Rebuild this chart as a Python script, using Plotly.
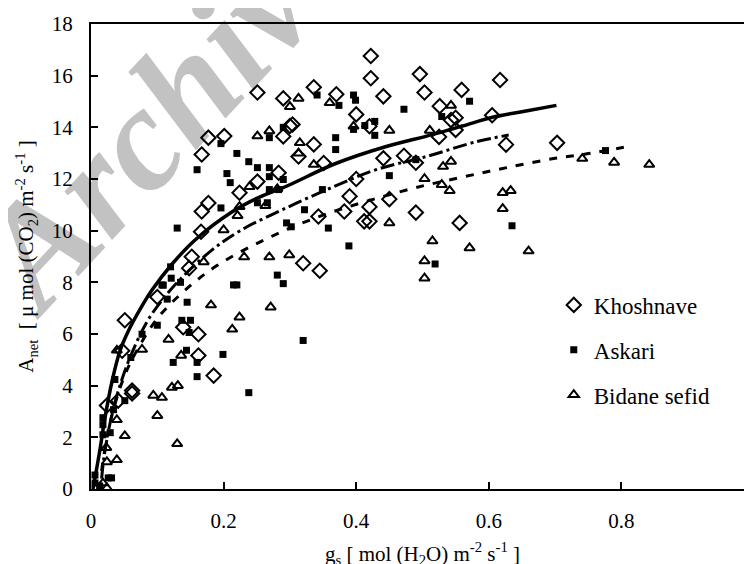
import plotly.graph_objects as go

# ---------------- data ----------------
kh_x = [0.422, 0.422, 0.251, 0.336, 0.29, 0.37, 0.304, 0.30, 0.40, 0.42, 0.29, 0.336, 0.313, 0.351,
        0.177, 0.201, 0.167, 0.283, 0.251, 0.224, 0.177, 0.167, 0.40, 0.39, 0.42, 0.382, 0.343, 0.412,
        0.42, 0.166, 0.152, 0.148, 0.32, 0.345, 0.051, 0.139, 0.162, 0.162, 0.185, 0.062, 0.062, 0.047,
        0.024, 0.041, 0.10, 0.496, 0.617, 0.441, 0.503, 0.559, 0.526, 0.55, 0.543, 0.605, 0.55, 0.525,
        0.626, 0.703, 0.441, 0.472, 0.49, 0.45, 0.49, 0.556]
kh_y = [16.76, 15.9, 15.35, 15.55, 15.12, 15.28, 14.11, 14.05, 14.5, 14.04, 13.65, 13.34, 12.87, 12.62,
        13.6, 13.66, 12.95, 12.24, 11.9, 11.47, 11.07, 10.74, 12.0, 11.33, 10.92, 10.74, 10.55, 10.36,
        10.36, 9.96, 8.99, 8.55, 8.74, 8.45, 6.53, 6.26, 5.99, 5.17, 4.39, 3.81, 3.70, 5.35,
        3.23, 3.42, 7.43, 16.06, 15.83, 15.2, 15.35, 15.45, 14.82, 14.37, 14.28, 14.47, 13.9, 13.63,
        13.33, 13.4, 12.8, 12.9, 12.63, 11.22, 10.7, 10.3]

as_x = [0.396, 0.399, 0.341, 0.374, 0.29, 0.269, 0.369, 0.369, 0.396, 0.413, 0.428, 0.428, 0.196,
        0.22, 0.238, 0.251, 0.269, 0.16, 0.205, 0.21, 0.269, 0.29, 0.269, 0.283, 0.251, 0.266, 0.196,
        0.349, 0.322, 0.13, 0.295, 0.302, 0.358, 0.389, 0.281, 0.121, 0.472, 0.571, 0.529, 0.49, 0.45,
        0.635, 0.519, 0.776, 0.109, 0.135, 0.215, 0.22, 0.29, 0.115, 0.145, 0.137, 0.15, 0.10, 0.148,
        0.144, 0.124, 0.16, 0.199, 0.16, 0.238, 0.32, 0.051, 0.036, 0.034, 0.018, 0.018, 0.029, 0.018,
        0.031, 0.026, 0.006, 0.006, 0.013, 0.077, 0.06, 0.12, 0.107]
as_y = [15.25, 15.05, 15.25, 14.85, 14.0, 13.6, 13.6, 13.14, 13.92, 14.07, 14.23, 13.69, 13.37,
        12.99, 12.67, 12.44, 12.44, 12.36, 12.21, 11.86, 12.09, 11.98, 11.59, 11.59, 11.08, 11.08, 10.88,
        11.59, 10.81, 10.1, 10.3, 10.15, 10.1, 9.41, 8.28, 8.16, 14.7, 15.01, 14.42, 12.75, 12.13,
        10.19, 8.71, 13.1, 7.89, 8.0, 7.9, 7.9, 7.95, 7.35, 7.23, 6.53, 6.53, 6.34, 6.06,
        5.37, 4.9, 4.9, 5.21, 4.35, 3.73, 5.75, 3.42, 4.24, 3.07, 2.76, 2.49, 2.18, 2.1,
        0.43, 0.43, 0.54, 0.23, 0.12, 5.99, 5.09, 8.6, 7.9]

bi_x = [0.313, 0.30, 0.36, 0.251, 0.269, 0.315, 0.313, 0.336, 0.239, 0.281, 0.263, 0.224, 0.221,
        0.20, 0.17, 0.231, 0.269, 0.299, 0.396, 0.45, 0.511, 0.543, 0.543, 0.531, 0.503, 0.529, 0.541,
        0.621, 0.633, 0.621, 0.45, 0.515, 0.571, 0.66, 0.503, 0.503, 0.741, 0.789, 0.842, 0.181,
        0.271, 0.224, 0.213, 0.117, 0.077, 0.039, 0.136, 0.094, 0.107, 0.122, 0.131, 0.10, 0.051,
        0.039, 0.13, 0.039, 0.024, 0.023, 0.018, 0.024]
bi_y = [15.12, 14.8, 14.95, 13.66, 13.86, 13.4, 13.0, 12.56, 11.7, 11.62, 10.96, 10.93, 10.58,
        10.03, 8.79, 8.98, 8.98, 9.06, 14.04, 13.88, 13.88, 14.85, 12.68, 12.48, 12.01, 11.78, 11.55,
        11.47, 11.55, 10.85, 10.3, 9.6, 9.33, 9.21, 8.83, 8.16, 12.79, 12.64, 12.56, 7.12,
        7.04, 6.65, 6.18, 5.79, 5.4, 5.37, 5.17, 3.62, 3.54, 3.93, 4.0, 2.84, 2.06,
        2.68, 1.75, 1.13, 1.05, 1.6, 0.23, 0.04]

# fitted curves
kh_fit_x = [0.003, 0.014, 0.02, 0.032, 0.044, 0.056, 0.075, 0.092, 0.122, 0.157, 0.213, 0.25,
            0.293, 0.369, 0.444, 0.515, 0.56, 0.607, 0.65, 0.702]
kh_fit_y = [0.0, 1.6, 2.6, 4.2, 5.37, 6.1, 7.0, 7.7, 8.7, 9.64, 10.73, 11.25,
            11.7, 12.6, 13.25, 13.72, 14.05, 14.4, 14.6, 14.85]
as_fit_x = [0.016, 0.02, 0.03, 0.04, 0.059, 0.085, 0.11, 0.134, 0.18, 0.225, 0.296, 0.366,
            0.43, 0.506, 0.582, 0.63]
as_fit_y = [0.4, 1.3, 2.7, 3.7, 5.1, 6.5, 7.4, 8.1, 9.2, 10.0, 10.9, 11.7,
            12.36, 12.87, 13.45, 13.7]
bi_fit_x = [0.016, 0.02, 0.03, 0.05, 0.07, 0.10, 0.14, 0.19, 0.266, 0.35, 0.48, 0.556,
            0.627, 0.70, 0.743, 0.813]
bi_fit_y = [0.7, 1.4, 2.7, 4.35, 5.4, 6.6, 7.65, 8.65, 9.7, 10.6, 11.6, 12.05,
            12.44, 12.8, 12.95, 13.27]

x_ticks = [0, 0.2, 0.4, 0.6, 0.8, 1]
x_tick_text = ["0", "0.2", "0.4", "0.6", "0.8", "1"]
y_ticks = [0, 2, 4, 6, 8, 10, 12, 14, 16, 18]

series_names = ["Khoshnave", "Askari", "Bidane sefid"]

# ---------------- figure ----------------
FONT = "Liberation Serif"
fig = go.Figure()

fig.add_trace(go.Scatter(x=kh_fit_x, y=kh_fit_y, mode="lines", line=dict(color="black", width=3.5, shape="spline"),
                         showlegend=False, hoverinfo="skip"))
fig.add_trace(go.Scatter(x=as_fit_x, y=as_fit_y, mode="lines",
                         line=dict(color="black", width=3, shape="spline", dash="14px,4px,3px,4px"),
                         showlegend=False, hoverinfo="skip"))
fig.add_trace(go.Scatter(x=bi_fit_x, y=bi_fit_y, mode="lines",
                         line=dict(color="black", width=3, shape="spline", dash="8px,9px"),
                         showlegend=False, hoverinfo="skip"))

fig.add_trace(go.Scatter(x=kh_x, y=kh_y, mode="markers", name=series_names[0], legendgroup="g1",
                         marker=dict(symbol="diamond-open", size=11, color="black", line=dict(width=2, color="black"))))
fig.add_trace(go.Scatter(x=as_x, y=as_y, mode="markers", name=series_names[1], legendgroup="g2",
                         marker=dict(symbol="square", size=7, color="black", line=dict(width=0))))
fig.add_trace(go.Scatter(x=bi_x, y=bi_y, mode="markers", name=series_names[2], legendgroup="g3",
                         marker=dict(symbol="triangle-up-open", size=9, color="black", line=dict(width=2, color="black"))))

# watermark, behind the data
fig.add_shape(type="rect", xref="paper", yref="paper", x0=0.0, x1=0.199, y0=0.797, y1=0.897,
              line=dict(width=0), fillcolor="rgba(0,0,0,0)", layer="below",
              label=dict(text="Archive", textangle=-47, textposition="middle center",
                         font=dict(size=148, color="#c2c2c2", family=FONT, weight="bold", style="italic")))

fig.update_layout(
    width=752, height=564,
    margin=dict(l=83, r=6, t=16, b=83),
    paper_bgcolor="white", plot_bgcolor="white",
    font=dict(family=FONT, size=21, color="black"),
    showlegend=True,
    legend=dict(x=0.698, y=0.442, xanchor="left", yanchor="top", bgcolor="rgba(0,0,0,0)",
                font=dict(family=FONT, size=23, color="black"), tracegroupgap=12,
                itemwidth=30),
    xaxis=dict(range=[0, 1], tickvals=x_ticks, ticktext=x_tick_text, ticks="inside", ticklen=7, tickwidth=2,
               tickcolor="black", showline=True, linecolor="black", linewidth=2, mirror=True,
               showgrid=False, zeroline=False, ticklabelstandoff=12, automargin=False,
               title=dict(text="g<sub>s</sub> [ mol (H<sub>2</sub>O) m<sup>-2</sup> s<sup>-1</sup> ]",
                          font=dict(family=FONT, size=21), standoff=14)),
    yaxis=dict(range=[0, 18], tickvals=y_ticks, ticks="inside", ticklen=7, tickwidth=2,
               tickcolor="black", showline=True, linecolor="black", linewidth=2, mirror=False,
               showgrid=False, zeroline=False, ticklabelstandoff=12, automargin=False,
               title=dict(text="A<sub>net</sub>  [ μ mol (CO<sub>2</sub>) m<sup>-2</sup> s<sup>-1</sup> ]",
                          font=dict(family=FONT, size=21), standoff=12)),
)

fig.write_html("out.html")
